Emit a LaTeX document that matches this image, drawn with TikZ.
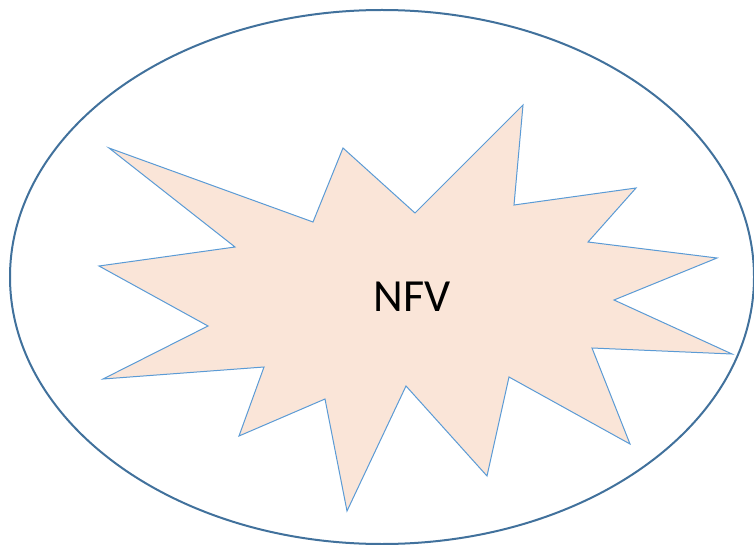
\documentclass[tikz,border=0pt]{standalone}
\usepackage{fontspec}
\setmainfont{Carlito}
\definecolor{ovalline}{HTML}{41719C}
\definecolor{starline}{HTML}{5B9BD5}
\definecolor{starfill}{HTML}{FAE5D8}
\begin{document}
\begin{tikzpicture}[x=1pt,y=-1pt]
\useasboundingbox (0,0) rectangle (754,545);
%Построение овала
\draw[ovalline,line width=2pt] (382,277) ellipse [x radius=372,y radius=267];
%Звезда
\draw[starline,fill=starfill,line width=1pt,line join=miter]
  (109,148)--(313,222)--(343,148)--(415,213)--(523,105)--(514,205)
  --(636,188)--(588,242)--(717,258)--(614,300)--(732,354)--(592,348)
  --(630,444)--(509,377)--(487,476)--(406,386)--(347,511)--(325,399)
  --(239,436)--(264,367)--(103,379)--(208,326)--(99,266)--(235,247)--cycle;
%Надпись
\node (nfv) at (412,297) {\fontsize{46}{46}\selectfont NFV};
\end{tikzpicture}
\end{document}
